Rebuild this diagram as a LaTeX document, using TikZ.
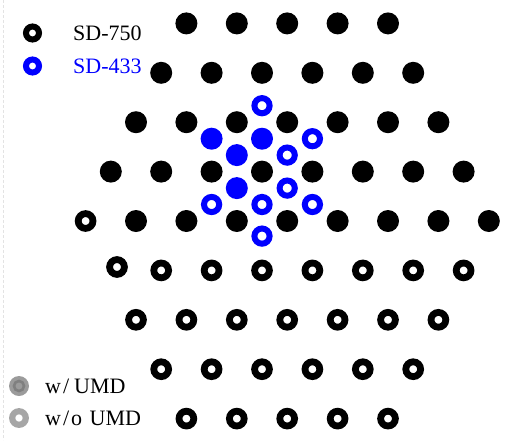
\documentclass[tikz,border=0pt]{standalone}
\usepackage{fontspec}
\setmainfont{Liberation Serif}
\definecolor{sdblue}{RGB}{0,0,255}
\definecolor{umdgray}{RGB}{155,155,155}
\definecolor{umddark}{RGB}{128,128,128}
\definecolor{umdlight}{RGB}{166,166,166}
\tikzset{
  dotfill/.style={circle, fill=black, inner sep=0pt, minimum size=22pt},
  dotring/.style={circle, draw=black, line width=6.8pt, inner sep=0pt, minimum size=14.8pt},
  bluefill/.style={dotfill, fill=sdblue},
  bluering/.style={dotring, draw=sdblue, line width=6pt, minimum size=15.2pt},
  legring/.style={circle, line width=6pt, inner sep=0pt, minimum size=13pt},
  legtext/.style={anchor=base west, inner sep=0pt, font=\fontsize{22}{24}\selectfont},
}
\begin{document}
\begin{tikzpicture}[x=1pt,y=-1pt]
\useasboundingbox (0,0) rectangle (513,440);
% faint guide at the left edge
\draw[gray!22, densely dashed, line width=0.6pt] (3,0) -- (3,440);

% hexagonal array of SD-750 sites: rows -4..4, 9-|r| sites per row
\foreach \r in {-4,...,4}{
  \pgfmathtruncatemacro\n{9-abs(\r)}
  \pgfmathtruncatemacro\last{\n-1}
  \foreach \k in {0,...,\last}{
    \pgfmathtruncatemacro\moved{and(\r==1,\k==0)}
    \pgfmathsetmacro\px{287.2+(\k-(\n-1)/2)*50.4+\moved*6.2}
    \pgfmathsetmacro\py{221+\r*49.4-\moved*3.4}
    \pgfmathtruncatemacro\filled{or(\r<0,and(\r==0,\k>0))}
    \ifnum\filled=1
      \node[dotfill] (d\r-\k) at (\px,\py) {};
    \else
      \node[dotring] (d\r-\k) at (\px,\py) {};
    \fi
  }
}

% SD-433 sites around the site d-1-3
\node[bluefill] (s1) at ([shift={(0,-32.9)}]d-1-3) {};
\node[bluefill] (s2) at ([shift={(-25.2,-16.5)}]d-1-3) {};
\node[bluefill] (s3) at ([shift={(-25.2,16.5)}]d-1-3) {};
\node[bluefill] (s4) at ([shift={(-50.4,-32.9)}]d-1-3) {};
\node[bluering] (s5) at ([shift={(25.2,-16.5)}]d-1-3) {};
\node[bluering] (s6) at ([shift={(25.2,16.5)}]d-1-3) {};
\node[bluering] (s7) at ([shift={(0,32.9)}]d-1-3) {};
\node[bluering] (s8) at ([shift={(0,-65.9)}]d-1-3) {};
\node[bluering] (s9) at ([shift={(50.4,-32.9)}]d-1-3) {};
\node[bluering] (s10) at ([shift={(50.4,32.9)}]d-1-3) {};
\node[bluering] (s11) at ([shift={(0,64.5)}]d-1-3) {};
\node[bluering] (s12) at ([shift={(-50.4,32.9)}]d-1-3) {};

% legend
\node[legring, draw=black] (l1) at (32.5,33) {};
\node[legtext] (t1) at (73,40) {SD-750};
\node[legring, draw=sdblue] (l2) at (32.5,66) {};
\node[legtext, text=sdblue] (t2) at (73,73.3) {SD-433};

\node[circle, fill=umdgray, inner sep=0pt, minimum size=20pt] (l3) at (19,386) {};
\node[circle, draw=umddark, line width=2.6pt, inner sep=0pt, minimum size=10pt] (l3i) at (l3) {};
\node[legtext] (t3) at (45,393) {w\kern2pt/\kern5pt UMD};
\node[legring, draw=umdlight, line width=6.2pt, minimum size=13.6pt] (l4) at (19,418) {};
\node[legtext] (t4) at (45,425) {w\kern2pt/\kern2pt o\kern2pt\ UMD};
\end{tikzpicture}
\end{document}
